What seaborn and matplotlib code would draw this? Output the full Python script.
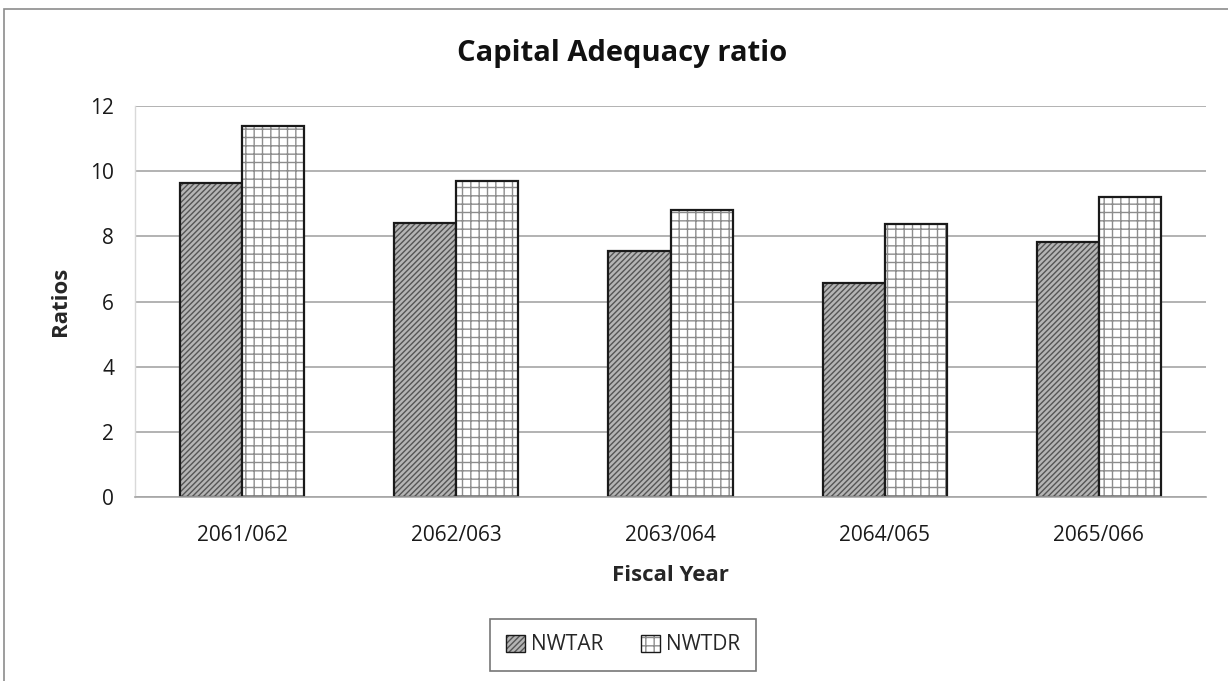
import matplotlib
matplotlib.use("Agg")
import matplotlib.pyplot as plt
import seaborn as sns
import pandas as pd
from matplotlib.patches import Rectangle

years = ["2061/062", "2062/063", "2063/064", "2064/065", "2065/066"]
nwtar = [9.63, 8.40, 7.56, 6.56, 7.82]
nwtdr = [11.38, 9.69, 8.80, 8.37, 9.20]
series = ["NWTAR", "NWTDR"]

df = pd.DataFrame({
    "Fiscal Year": years * 2,
    "Ratio": nwtar + nwtdr,
    "Series": [series[0]] * len(years) + [series[1]] * len(years),
})

sns.set_theme(style="white")
plt.rcParams["font.family"] = ["Open Sans", "DejaVu Sans"]
plt.rcParams["hatch.linewidth"] = 1.0

fig = plt.figure(figsize=(12.28, 6.81), dpi=100)
ax = fig.add_axes([135 / 1228, 1 - 497 / 681, (1206 - 135) / 1228, (497 - 106) / 681])

sns.barplot(data=df, x="Fiscal Year", y="Ratio", hue="Series", order=years,
            hue_order=series, palette=["#b5b5b5", "#ffffff"], width=0.58,
            edgecolor="#1a1a1a", linewidth=1.6, ax=ax, legend=False)

styles = [("#b5b5b5", "//////", "#555555"), ("#ffffff", "++", "#8c8c8c")]
for cont, (fc, hatch, hc) in zip(ax.containers, styles):
    for bar in cont:
        bar.set_facecolor(fc)
        bar.set_hatch(hatch)
        bar._hatch_color = matplotlib.colors.to_rgba(hc)

ax.set_ylim(0, 12)
ax.set_yticks(range(0, 13, 2))
ax.yaxis.grid(True, color="#a6a6a6", linewidth=1.2)
ax.set_axisbelow(True)
for side in ["top", "right"]:
    ax.spines[side].set_visible(False)
ax.spines["left"].set_color("#d9d9d9")
ax.spines["left"].set_linewidth(1.0)
ax.spines["bottom"].set_color("#a6a6a6")
ax.spines["bottom"].set_linewidth(1.2)
ax.tick_params(axis="both", length=0, labelsize=15, colors="#1a1a1a")
ax.tick_params(axis="x", pad=20)
ax.tick_params(axis="y", pad=15)

ax.set_xlabel("Fiscal Year", fontsize=16, fontweight="bold", labelpad=14)
ax.set_ylabel("Ratios", fontsize=16, fontweight="bold", labelpad=14)
fig.text(622 / 1228, 1 - 53 / 681, "Capital Adequacy ratio", ha="center",
         va="center", fontsize=21, fontweight="bold", color="#111111")

handles = [Rectangle((0, 0), 1, 1, facecolor=fc, hatch=h, edgecolor="#1a1a1a")
           for fc, h, _ in styles]
for hd, (_, _, hc) in zip(handles, styles):
    hd._hatch_color = matplotlib.colors.to_rgba(hc)
leg = fig.legend(handles, series, loc="center", ncol=2,
                 bbox_to_anchor=(623 / 1228, 1 - 645 / 681), frameon=True,
                 fancybox=False, edgecolor="#555555", fontsize=15,
                 handlelength=0.9, handleheight=0.9, handletextpad=0.3,
                 columnspacing=1.8, borderpad=0.75, borderaxespad=0)
leg.get_frame().set_linewidth(1.2)

# outer chart border
fig.add_artist(Rectangle((4 / 1228, -0.05), 1.1, 1 - 9 / 681 + 0.05,
                         transform=fig.transFigure, fill=False,
                         edgecolor="#8c8c8c", linewidth=1.2))

fig.savefig("out.png", dpi=100, facecolor="white")
